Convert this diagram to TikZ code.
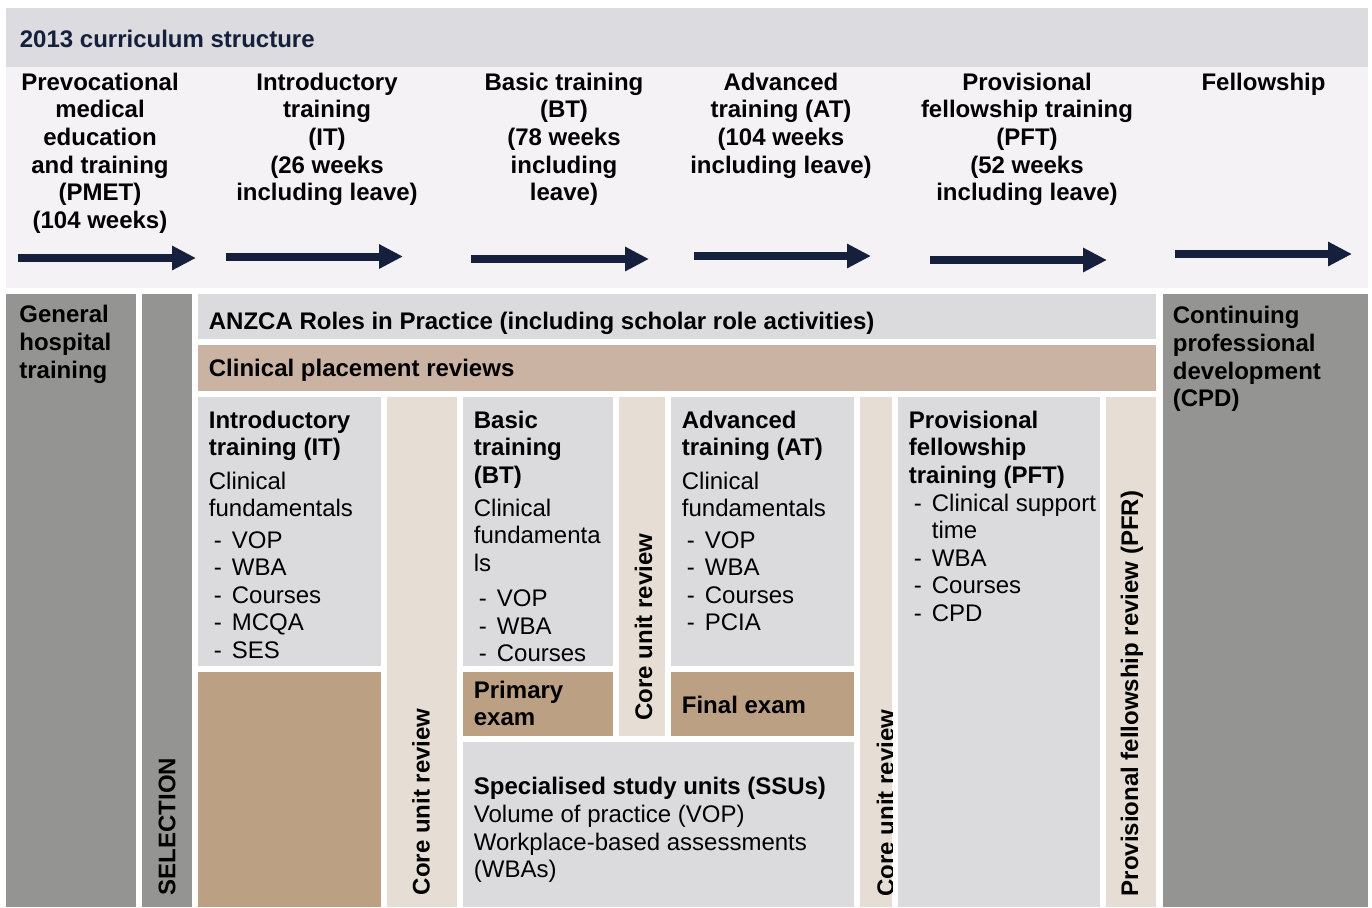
\documentclass[tikz,border=0pt]{standalone}
\usepackage{fontspec}
\setmainfont{Liberation Sans}
\usetikzlibrary{arrows.meta}
\definecolor{navy}{HTML}{15203D}
\definecolor{hdgray}{HTML}{DCDBDF}
\definecolor{band}{HTML}{F5F2F5}
\definecolor{colgray}{HTML}{949593}
\definecolor{boxgray}{HTML}{DBDADC}
\definecolor{rosetan}{HTML}{CBB3A3}
\definecolor{examtan}{HTML}{BCA083}
\definecolor{corebeige}{HTML}{E6DDD4}
\newcommand\bodyfont{\fontsize{12}{13.8}\selectfont}
\newcommand\itm[1]{\makebox[11.5pt][l]{\hspace{2.5pt}-}#1}
\begin{document}
\begin{tikzpicture}[x=0.5pt,y=-0.5pt,
	lbl/.style={anchor=north west,inner sep=0pt,align=left,font=\bodyfont},
	blbl/.style={lbl,font=\bodyfont\bfseries},
	hd/.style={anchor=north,inner sep=0pt,align=center,font=\bodyfont\bfseries},
	vlbl/.style={rotate=90,anchor=west,inner sep=0pt,font=\bodyfont\bfseries},
	bigarrow/.style={navy,line width=4pt,-{Triangle[width=11.5pt,length=12pt]}}]
	\useasboundingbox (0,0) rectangle (1372,907);
	% header band
	\fill[hdgray] (6,8) rectangle (1368,67);
	\fill[band] (6,67) rectangle (1368,288);
	\node[blbl,text=navy] (title) at (19.5,29.5) {2013 curriculum structure};
	% stages
	\node[hd] (hpmet) at (100,72.5) {Prevocational\\medical\\education\\and training\\(PMET)\\(104 weeks)};
	\node[hd] (hit) at (327,72.5) {Introductory\\training\\(IT)\\(26 weeks\\including leave)};
	\node[hd] (hbt) at (564,72.5) {Basic training\\(BT)\\(78 weeks\\including\\leave)};
	\node[hd] (hat) at (781,72.5) {Advanced\\training (AT)\\(104 weeks\\including leave)};
	\node[hd] (hpft) at (1027,72.5) {Provisional\\fellowship training\\(PFT)\\(52 weeks\\including leave)};
	\node[hd] (hfel) at (1263.5,72.5) {Fellowship};
	% arrows
	\foreach \xa/\xb/\ya [count=\i] in {18/196/258,226/403/256.5,471/649/259,694/871/256,930/1107/260,1175/1352/254}{
		\coordinate (s\i) at (\xa,\ya);
		\coordinate (e\i) at (\xb,\ya);
		\draw[bigarrow] (s\i) -- (e\i);
	}
	% columns
	\fill[colgray] (6,294) rectangle (136,907);
	\fill[colgray] (142,294) rectangle (192,907);
	\fill[boxgray] (198,294) rectangle (1156,339);
	\fill[rosetan] (198,345) rectangle (1156,391);
	\fill[boxgray] (198,397) rectangle (381,666);
	\fill[examtan] (198,672) rectangle (381,907);
	\fill[corebeige] (387,397) rectangle (457,907);
	\fill[boxgray] (463,397) rectangle (613,666);
	\fill[examtan] (463,672) rectangle (613,736);
	\fill[corebeige] (619,397) rectangle (665,736);
	\fill[boxgray] (671,397) rectangle (854,666);
	\fill[examtan] (671,672) rectangle (854,736);
	\fill[boxgray] (463,742) rectangle (854,907);
	\fill[corebeige] (860,397) rectangle (892,907);
	\fill[boxgray] (898,397) rectangle (1100,907);
	\fill[corebeige] (1106,397) rectangle (1156,907);
	\fill[colgray] (1163,294) rectangle (1368,907);
	% texts
	\node[blbl] (ght) at (19,305) {General\\hospital\\training};
	\node[vlbl] (sel) at (167,895.5) {SELECTION};
	\node[blbl] (roles) at (208.5,311.5) {ANZCA Roles in Practice (including scholar role activities)};
	\node[blbl] (cpr) at (208.5,359) {Clinical placement reviews};
	\node[lbl] (it) at (208.5,410.5) {\textbf{Introductory}\\\textbf{training (IT)}\\[2.75pt]Clinical\\fundamentals\\[1.9pt]\itm{VOP}\\\itm{WBA}\\\itm{Courses}\\\itm{MCQA}\\\itm{SES}};
	\node[lbl] (bt) at (473.5,410.5) {\textbf{Basic}\\\textbf{training}\\\textbf{(BT)}\\[2.5pt]Clinical\\fundamenta\\ls\\[3.75pt]\itm{VOP}\\\itm{WBA}\\\itm{Courses}};
	\node[lbl] (at) at (681.5,410.5) {\textbf{Advanced}\\\textbf{training (AT)}\\[2.75pt]Clinical\\fundamentals\\[1.9pt]\itm{VOP}\\\itm{WBA}\\\itm{Courses}\\\itm{PCIA}};
	\node[lbl] (pft) at (908.5,410.5) {\textbf{Provisional}\\\textbf{fellowship}\\\textbf{training (PFT)}\\\itm{Clinical support}\\\hspace*{11.5pt}time\\\itm{WBA}\\\itm{Courses}\\\itm{CPD}};
	\node[blbl] (prim) at (473.5,680.5) {Primary\\exam};
	\node[blbl] (fin) at (681.5,695.5) {Final exam};
	\node[lbl] (ssu) at (473.5,777) {\textbf{Specialised study units (SSUs)}\\Volume of practice (VOP)\\Workplace-based assessments\\(WBAs)};
	\node[blbl] (cpd) at (1172.5,306) {Continuing\\professional\\development\\(CPD)};
	% reviews
	\node[vlbl] (cur1) at (421,895.5) {Core unit review};
	\node[vlbl] (cur2) at (643.5,721) {Core unit review};
	\begin{scope}
		\clip (860,397) rectangle (892,907);
		\node[vlbl] (cur3) at (885.5,897) {Core unit review};
	\end{scope}
	\node[vlbl] (pfr) at (1132,896.5) {Provisional fellowship review (PFR)};
\end{tikzpicture}
\end{document}
